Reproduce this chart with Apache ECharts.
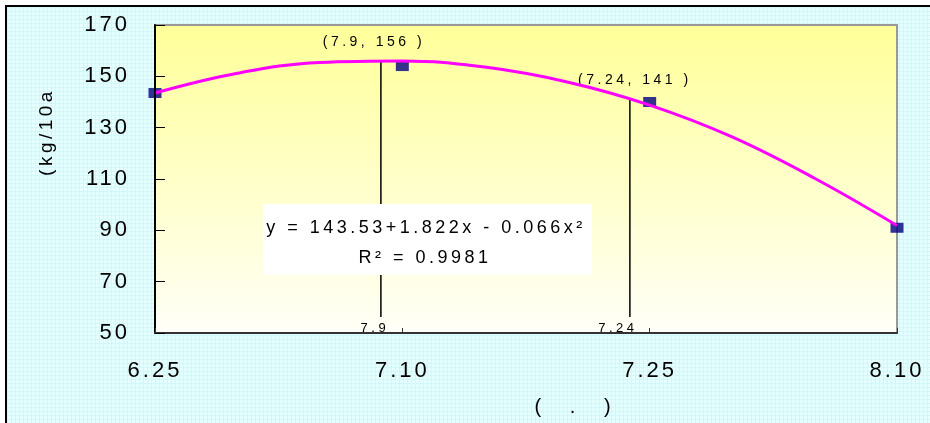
<!DOCTYPE html>
<html>
<head>
<meta charset="utf-8">
<script src="https://cdn.jsdelivr.net/npm/echarts@6/dist/echarts.min.js"></script>
<style>html,body{margin:0;padding:0;background:#fff}#c{width:930px;height:423px}</style>
</head>
<body>
<div id="c"></div>
<script>
// ---- data ----
const dateLabels = ['6.25', '7.10', '7.25', '8.10'];
const dayOffsets = [0, 15, 30, 45];
const yields = [143.5, 154, 140, 91];
// fitted quadratic trend line
const trendX = [0, 5, 10, 15, 20, 25, 30, 35, 40, 45];
const trendY = [143.5, 151.2, 155.4, 156.0, 153.6, 147.8, 138.8, 126.4, 110.3, 91.9];
// marked points
const peakX = 13.7, peakY = 156, peakLabel = '(7.9, 156 )', peakDate = '7.9';
const lateX = 28.8, lateY = 141.5, lateLabel = '(7.24, 141 )', lateDate = '7.24';
const dropBottom = 56.2;
const yTicks = { min: 50, max: 170, step: 20 };
const equation = 'y = 143.53+1.822x - 0.066x\u00B2';
const rSquared = 'R\u00B2 = 0.9981';
const yName = '(kg/10a';
const xName = '(   .   )';

// letter spacing like the original rendering
(function () {
  const P = CanvasRenderingContext2D.prototype;
  ['fillText', 'strokeText', 'measureText'].forEach(function (fn) {
    const o = P[fn];
    P[fn] = function () {
      if ('letterSpacing' in this) {
        const m = /(\d+(?:\.\d+)?)px/.exec(this.font || '');
        const sz = m ? parseFloat(m[1]) : 12;
        this.letterSpacing = sz >= 20 ? '3px' : '3.5px';
      }
      return o.apply(this, arguments);
    };
  });
})();

// cyan grid pattern for the outer background
const pc = document.createElement('canvas');
pc.width = 4; pc.height = 4;
const pctx = pc.getContext('2d');
pctx.fillStyle = '#e6ffff';
pctx.fillRect(0, 0, 4, 4);
pctx.fillStyle = '#d2f6fa';
pctx.fillRect(0, 3, 4, 1);
pctx.fillRect(3, 0, 1, 4);

const FONT = '"Liberation Sans", Arial, sans-serif';
function txt(s, size) {
  return { text: s, fontSize: size, fontFamily: FONT, fill: '#000', align: 'center', verticalAlign: 'middle' };
}
const chart = echarts.init(document.getElementById('c'));
chart.setOption({
  backgroundColor: '#fff',
  animation: false,
  textStyle: { fontFamily: FONT, color: '#000' },
  graphic: [
    { type: 'rect', z: -100, shape: { x: 6, y: 6, width: 940, height: 440 },
      style: { fill: { image: pc, repeat: 'repeat' }, stroke: '#000', lineWidth: 2 } },
    { type: 'rect', z: 100, shape: { x: 263, y: 204, width: 329, height: 71 },
      style: { fill: '#fff' } },
    { type: 'text', z: 101, x: 426, y: 228, style: txt(equation, 18) },
    { type: 'text', z: 101, x: 425, y: 258, style: txt(rSquared, 18) },
    { type: 'text', z: 101, x: 47, y: 132, rotation: Math.PI / 2, style: txt(yName, 19) },
    { type: 'text', z: 101, x: 574, y: 407, style: txt(xName, 20) }
  ],
  grid: {
    left: 155, top: 25, right: 33, bottom: 90,
    show: true, borderColor: '#999', borderWidth: 2,
    backgroundColor: new echarts.graphic.LinearGradient(0, 0, 0, 1, [
      { offset: 0, color: '#ffff99' },
      { offset: 1, color: '#fffff8' }
    ])
  },
  xAxis: {
    type: 'value', min: 0, max: 45, interval: 15, z: 10,
    axisLine: { lineStyle: { color: '#333', width: 2 } },
    axisTick: { inside: true, length: 5, lineStyle: { color: '#333' } },
    splitLine: { show: false },
    axisLabel: {
      fontSize: 22, color: '#000', margin: 25, fontFamily: FONT,
      formatter: function (v) { const i = dayOffsets.indexOf(v); return i >= 0 ? dateLabels[i] : ''; }
    }
  },
  yAxis: {
    type: 'value', min: yTicks.min, max: yTicks.max, interval: yTicks.step, z: 10,
    axisLine: { show: true, lineStyle: { color: '#000', width: 2 } },
    axisTick: { show: true, inside: true, length: 10, lineStyle: { color: '#000' } },
    splitLine: { show: false },
    axisLabel: { fontSize: 22, color: '#000', margin: 25, fontFamily: FONT }
  },
  series: [
    {
      type: 'line', z: 2, showSymbol: true, symbolSize: 0, silent: true,
      lineStyle: { color: '#000', width: 1.5 },
      data: [
        { value: [peakX, peakY], label: { show: true, position: 'top', distance: 5, offset: [-7, -5], formatter: peakLabel, fontSize: 14, color: '#000' } },
        { value: [peakX, dropBottom], label: { show: true, position: 'bottom', distance: 0, offset: [-6, 3], formatter: peakDate, fontSize: 13, color: '#000' } }
      ]
    },
    {
      type: 'line', z: 2, showSymbol: true, symbolSize: 0, silent: true,
      lineStyle: { color: '#000', width: 1.5 },
      data: [
        { value: [lateX, lateY], label: { show: true, position: 'top', distance: 5, offset: [5, -4], formatter: lateLabel, fontSize: 14, color: '#000' } },
        { value: [lateX, dropBottom], label: { show: true, position: 'bottom', distance: 0, offset: [-12, 3], formatter: lateDate, fontSize: 13, color: '#000' } }
      ]
    },
    {
      type: 'scatter', z: 3, symbol: 'rect', symbolSize: [13, 10],
      itemStyle: { color: '#000080' },
      data: dayOffsets.map(function (d, i) { return [d, yields[i]]; })
    },
    {
      type: 'line', z: 4, smooth: 0.4, showSymbol: false,
      lineStyle: { color: '#ff00ff', width: 3 },
      data: trendX.map(function (d, i) { return [d, trendY[i]]; })
    }
  ]
});
</script>
</body>
</html>
